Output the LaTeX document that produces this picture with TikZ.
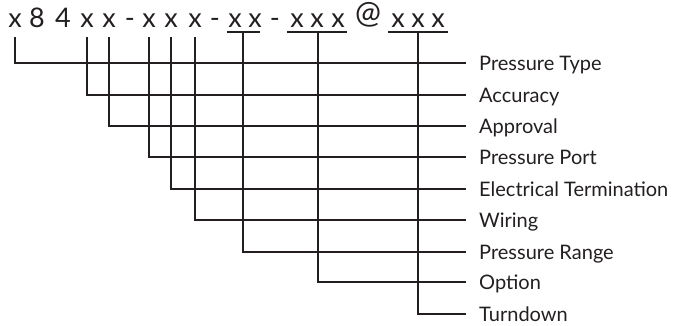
\documentclass[tikz,border=0pt]{standalone}
\usepackage{fontspec}
\setmainfont{Lato}
\definecolor{ink}{HTML}{231F20}
\begin{document}
\begin{tikzpicture}[x=1pt,y=-1pt,
  ch/.style={inner sep=0pt, anchor=base, text height=12pt, text depth=0pt,
    font=\fontsize{27}{27}\selectfont, text=ink},
  lab/.style={inner sep=0pt, anchor=west, text height=14pt, text depth=0pt,
    font=\fontsize{20}{20}\selectfont, text=ink},
  wire/.style={draw=ink, line width=1.3pt},
  uline/.style={draw=ink, line width=1.6pt}]
\useasboundingbox (0,0) rectangle (678,325);

% model code characters
\node[ch] (c1) at (15,27) {x};
\node[ch] (d8) at (37,27) {8};
\node[ch] (d4) at (63,27) {4};
\node[ch] (c2) at (87,27) {x};
\node[ch] (c3) at (109,27) {x};
\node[ch] (h1) at (130,27) {-};
\node[ch] (c4) at (149,27) {x};
\node[ch] (c5) at (171,27) {x};
\node[ch] (c6) at (195,27) {x};
\node[ch] (h2) at (215,27) {-};
\node[ch] (r1) at (235,27) {x};
\node[ch] (r2) at (255,27) {x};
\node[ch] (h3) at (275,27) {-};
\node[ch] (o1) at (297,27) {x};
\node[ch] (o2) at (317,27) {x};
\node[ch] (o3) at (338,27) {x};
\node[ch, font=\fontsize{31}{31}\selectfont] (at) at (368,23) {@};
\node[ch] (u1) at (398,27) {x};
\node[ch] (u2) at (418,27) {x};
\node[ch] (u3) at (438,27) {x};

% field labels
\node[lab] (l1) at (479,63) {Pressure Type};
\node[lab] (l2) at (479,95) {Accuracy};
\node[lab] (l3) at (479,126) {Approval};
\node[lab] (l4) at (479,157) {Pressure Port};
\node[lab] (l5) at (479,189) {Electrical Termination};
\node[lab] (l6) at (479,220) {Wiring};
\node[lab] (l7) at (479,252) {Pressure Range};
\node[lab] (l8) at (479,282) {Option};
\node[lab] (l9) at (479,314) {Turndown};

% underlines for multi-character fields
\coordinate (g1) at (243,32);
\coordinate (g2) at (318,32);
\coordinate (g3) at (418,32);
\draw[uline] ([xshift=-16pt]g1) -- ([xshift=17pt]g1);
\draw[uline] ([xshift=-31pt]g2) -- ([xshift=29pt]g2);
\draw[uline] ([xshift=-30pt]g3) -- ([xshift=30pt]g3);

% leader lines
\draw[wire] ([yshift=-10pt]c1.south) |- ([xshift=-13pt]l1.west);
\draw[wire] ([yshift=-10pt]c2.south) |- ([xshift=-13pt]l2.west);
\draw[wire] ([yshift=-10pt]c3.south) |- ([xshift=-13pt]l3.west);
\draw[wire] ([yshift=-10pt]c4.south) |- ([xshift=-13pt]l4.west);
\draw[wire] ([yshift=-10pt]c5.south) |- ([xshift=-13pt]l5.west);
\draw[wire] ([yshift=-10pt]c6.south) |- ([xshift=-13pt]l6.west);
\draw[wire] (g1) |- ([xshift=-13pt]l7.west);
\draw[wire] (g2) |- ([xshift=-13pt]l8.west);
\draw[wire] (g3) |- ([xshift=-13pt]l9.west);
\end{tikzpicture}
\end{document}
